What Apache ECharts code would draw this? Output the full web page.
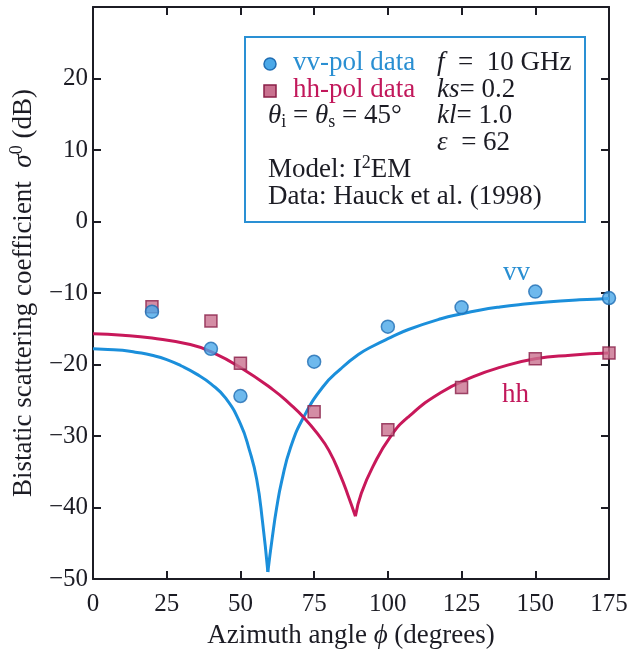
<!DOCTYPE html>
<html>
<head>
<meta charset="utf-8">
<script src="https://cdn.jsdelivr.net/npm/echarts@6/dist/echarts.min.js"></script>
<style>html,body{margin:0;padding:0;background:#fff}#c{width:636px;height:654px}</style>
</head>
<body>
<div id="c"></div>
<script>
// Measured data (azimuth angle in degrees, bistatic scattering coefficient in dB)
var dataX = [20, 40, 50, 75, 100, 125, 150, 175];
var vvData = [-12.6, -17.8, -24.4, -19.6, -14.7, -12.0, -9.8, -10.7];
var hhData = [-11.9, -13.9, -19.8, -26.6, -29.1, -23.2, -19.2, -18.4];

// I2EM model curves
var vvModelX = [0, 5, 10, 15, 20, 25, 30, 35, 40, 45, 50, 53, 55.5, 57.5, 59.3, 60.8, 62.3, 64, 67, 71.5, 78, 84, 90, 95, 101, 107, 118, 125, 131, 138, 145, 154, 165, 175];
var vvModel = [-17.8, -17.9, -18.0, -18.3, -18.7, -19.3, -20.2, -21.3, -22.7, -24.7, -28.3, -31.9, -36.0, -42.0, -49.0, -44.2, -40.0, -36.3, -31.6, -27.3, -23.1, -20.6, -18.6, -17.4, -16.2, -15.1, -13.6, -12.9, -12.4, -11.95, -11.6, -11.25, -10.95, -10.75];
var hhModelX = [0, 10, 20, 33, 40, 50, 61, 67, 71.5, 76, 80, 84, 86.5, 89, 91, 95, 101, 107, 118, 129, 138, 150, 162, 175];
var hhModel = [-15.7, -15.9, -16.3, -17.2, -18.2, -20.4, -23.5, -25.6, -27.4, -29.6, -32.0, -35.6, -38.3, -41.2, -38.0, -34.2, -30.0, -27.3, -23.9, -21.7, -20.4, -19.2, -18.7, -18.4];

var xTicks = [0, 25, 50, 75, 100, 125, 150, 175];
var yTicks = [-50, -40, -30, -20, -10, 0, 10, 20];

var FONT = 'Liberation Serif';
var INK = '#1c1c24';
var BLUE = '#1b8fdb';
var RED = '#c8185a';
var FS = 27;

function zip(a, b) { return a.map(function (v, i) { return [v, b[i]]; }); }
// split a curve at its minimum (the notch) so both branches meet in a sharp cusp
function branches(xs, ys) {
  var k = ys.indexOf(Math.min.apply(null, ys));
  var pts = zip(xs, ys);
  return [pts.slice(0, k + 1), pts.slice(k)];
}

var chart = echarts.init(document.getElementById('c'), null, {renderer: 'canvas'});

function xAxisCfg(pos, showLabel) {
  return {
    type: 'value', position: pos, min: 0, max: 175, interval: 25,
    axisLine: {show: true, onZero: false, lineStyle: {color: INK, width: 2}},
    axisTick: {show: true, inside: true, length: 8, lineStyle: {color: INK, width: 2}},
    axisLabel: {show: showLabel, fontFamily: FONT, fontSize: 25, color: INK, margin: 13,
      formatter: function (v) { return xTicks.indexOf(v) >= 0 ? String(v) : ''; }},
    splitLine: {show: false}
  };
}
function yAxisCfg(pos, showLabel) {
  return {
    type: 'value', position: pos, min: -50, max: 30, interval: 10,
    axisLine: {show: true, onZero: false, lineStyle: {color: INK, width: 2}},
    axisTick: {show: true, inside: true, length: 8, lineStyle: {color: INK, width: 2}},
    axisLabel: {show: showLabel, fontFamily: FONT, fontSize: 25, color: INK, margin: 5,
      formatter: function (v) { return yTicks.indexOf(v) >= 0 ? String(v).replace('-', '\u2212') : ''; }},
    splitLine: {show: false}
  };
}

var xb = xAxisCfg('bottom', true);
xb.name = 'Azimuth angle {i|\u03D5} (degrees)';
xb.nameLocation = 'middle';
xb.nameGap = 41;
xb.nameTextStyle = {fontFamily: FONT, fontSize: FS, color: INK,
  rich: {i: {fontFamily: FONT, fontSize: FS, fontStyle: 'italic', color: INK}}};
var yl = yAxisCfg('left', true);
yl.name = 'Bistatic scattering coefficient  {i|\u03C3}{sup|0} (dB)';
yl.nameLocation = 'middle';
yl.nameGap = 54;
yl.nameTextStyle = {fontFamily: FONT, fontSize: FS, color: INK,
  rich: {i: {fontFamily: FONT, fontSize: FS, fontStyle: 'italic', color: INK},
         sup: {fontFamily: FONT, fontSize: 18, color: INK, padding: [0, 0, 13, 0]}}};

var txt = {fontFamily: FONT, fontSize: FS, fill: INK};
function t(x, y, s, extra) {
  var st = Object.assign({}, txt, {text: s, x: x, y: y, verticalAlign: 'middle'}, extra || {});
  return {type: 'text', style: st, z: 20};
}
var richBase = {
  i: {fontFamily: FONT, fontSize: FS, fontStyle: 'italic', fill: INK},
  s: {fontFamily: FONT, fontSize: 18, fill: INK, padding: [13, 0, 0, 0]},
  sup: {fontFamily: FONT, fontSize: 18, fill: INK, padding: [0, 0, 13, 0]}
};

var vvB = branches(vvModelX, vvModel);
var hhB = branches(hhModelX, hhModel);
function modelSeries(name, pts, color) {
  return {name: name, type: 'line', data: pts, showSymbol: false, smooth: 0.5,
          lineStyle: {color: color, width: 3}, z: 2};
}

var option = {
  animation: false,
  backgroundColor: '#fff',
  grid: {left: 93, right: 27, top: 7, bottom: 74, containLabel: false},
  xAxis: [xb, xAxisCfg('top', false)],
  yAxis: [yl, yAxisCfg('right', false)],
  series: [
    modelSeries('vv model', vvB[0], BLUE),
    modelSeries('vv model', vvB[1], BLUE),
    modelSeries('hh model', hhB[0], RED),
    modelSeries('hh model', hhB[1], RED),
    {name: 'hh-pol data', type: 'scatter', data: zip(dataX, hhData), symbol: 'rect', symbolSize: 12,
     itemStyle: {color: '#c9718f', borderColor: '#8a1f48', borderWidth: 1.5}, z: 3},
    {name: 'vv-pol data', type: 'scatter', data: zip(dataX, vvData), symbol: 'circle', symbolSize: 13,
     itemStyle: {color: '#4aa8e8', borderColor: '#1f6db3', borderWidth: 1.5}, z: 4}
  ],
  graphic: [
    {type: 'rect', shape: {x: 245, y: 37, width: 340, height: 185},
     style: {fill: '#fff', stroke: '#2a90d4', lineWidth: 2}, z: 10},
    {type: 'circle', shape: {cx: 270, cy: 64, r: 6}, style: {fill: '#4aa8e8', stroke: '#1f6db3', lineWidth: 1.5}, z: 20},
    {type: 'rect', shape: {x: 264, y: 85, width: 12, height: 12}, style: {fill: '#c9718f', stroke: '#8a1f48', lineWidth: 1.5}, z: 20},
    t(293, 63, 'vv-pol data', {fill: '#2a8fd2'}),
    t(293, 90, 'hh-pol data', {fill: '#c2185b'}),
    t(268, 116, '{i|\u03B8}{s|i} = {i|\u03B8}{s|s} = 45\u00B0', {rich: richBase}),
    t(268, 170, 'Model: I{sup|2}EM', {rich: richBase}),
    t(268, 197, 'Data: Hauck et al. (1998)'),
    t(437, 63, '{i|f}  =  10 GHz', {rich: richBase}),
    t(437, 90, '{i|ks}= 0.2', {rich: richBase}),
    t(437, 116, '{i|kl}= 1.0', {rich: richBase}),
    t(437, 143, '{i|\u03B5}  = 62', {rich: richBase}),
    t(503, 273, 'vv', {fill: '#2a8fd2'}),
    t(502, 395, 'hh', {fill: '#c2185b'})
  ]
};
chart.setOption(option);
</script>
</body>
</html>
